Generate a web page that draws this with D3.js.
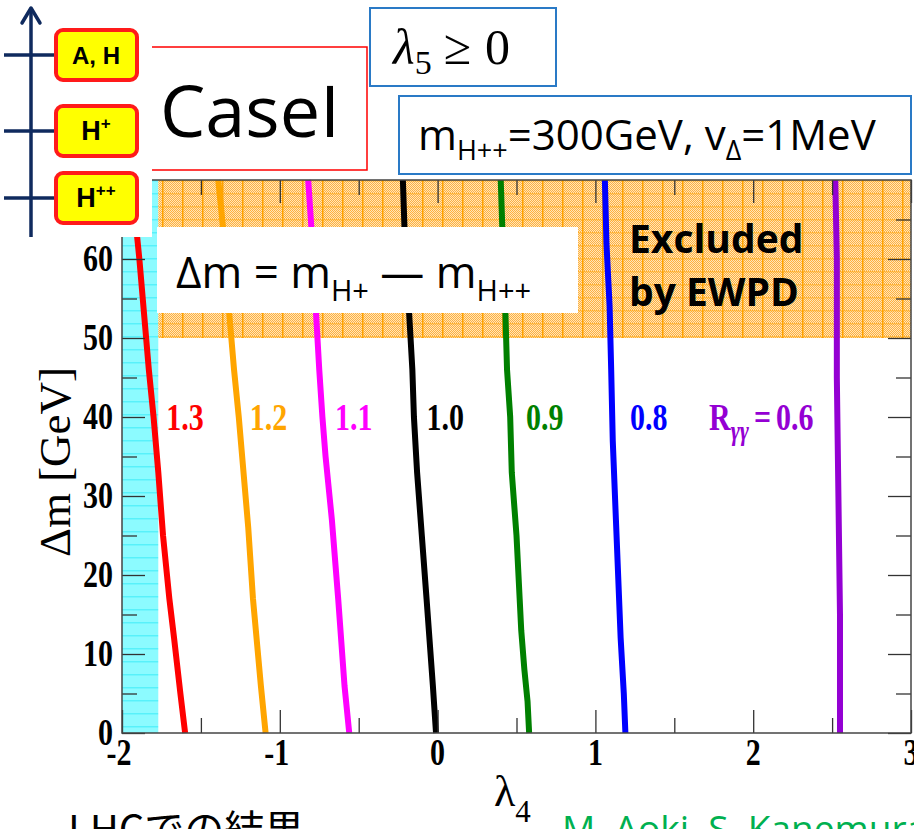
<!DOCTYPE html>
<html>
<head>
<meta charset="utf-8">
<script src="https://cdn.jsdelivr.net/npm/d3@7"></script>
<style>
  body { margin: 0; background: #fff; }
  svg { display: block; }
</style>
</head>
<body>
<div class="chart"></div>
<script>

// Chart values
var xTicks = [-2, -1, 0, 1, 2, 3];
var xMinorTicks = [-1.5, -0.5, 0.5, 1.5, 2.5];
var yTicks = [0, 10, 20, 30, 40, 50, 60];
var yMinorTicks = [5, 15, 25, 35, 45, 55, 65];

var curveLevels = ["1.3", "1.2", "1.1", "1.0", "0.9", "0.8", "0.6"];
var curveColors = ["#ff0000", "#ffa500", "#ff00ff", "#000000", "#008000", "#0000ff", "#9400d3"];

// [lambda4, delta m] along each R_gamma-gamma contour
var curve13 = [[-1.60, 0], [-1.63, 5], [-1.67, 12], [-1.70, 17], [-1.74, 25], [-1.77, 33], [-1.80, 40], [-1.83, 46], [-1.86, 53], [-1.89, 60], [-1.92, 66], [-1.94, 70]];
var curve12 = [[-1.09, 0], [-1.12, 6], [-1.17, 17], [-1.20, 26], [-1.23, 33], [-1.26, 40], [-1.29, 46], [-1.32, 53], [-1.36, 64], [-1.39, 70]];
var curve11 = [[-0.56, 0], [-0.59, 6], [-0.63, 17], [-0.67, 27], [-0.71, 35], [-0.73, 40], [-0.75, 46], [-0.77, 53], [-0.80, 64], [-0.82, 70]];
var curve10 = [[-0.01, 0], [-0.03, 6], [-0.07, 17], [-0.10, 25], [-0.13, 33], [-0.15, 40], [-0.16, 46], [-0.18, 53], [-0.21, 64], [-0.22, 70]];
var curve09 = [[0.58, 0], [0.57, 4], [0.55, 8], [0.53, 13], [0.52, 17], [0.50, 25], [0.47, 33], [0.46, 40], [0.44, 46], [0.43, 53], [0.41, 64], [0.40, 70]];
var curve08 = [[1.19, 0], [1.18, 5], [1.16, 12], [1.15, 17], [1.13, 27], [1.11, 37], [1.10, 46], [1.09, 54], [1.07, 62], [1.06, 70]];
var curve06 = [[2.55, 0], [2.55, 15], [2.54, 30], [2.53, 45], [2.53, 60], [2.52, 70]];
var curves = [curve13, curve12, curve11, curve10, curve09, curve08, curve06];

// Where each contour label starts
var labelLambda = [-1.72, -1.19, -0.65, -0.07, 0.56, 1.22, 1.72];
var labelDm = 39;

// Shaded regions [lambda min, lambda max, dm min, dm max]
var cyanRegion = [-2, -1.77, 0, 70];
var ewpdRegion = [-1.77, 3, 50, 70];

// Dimensions
var width = 914;
var height = 829;
var plot = {left: 122, right: 911, top: 180, bottom: 733};

var x = d3.scaleLinear().domain([-2, 3]).range([plot.left, plot.right]);
var y = d3.scaleLinear().domain([0, 70]).range([plot.bottom, plot.top]);

var svg = d3.select(".chart")
  .append("svg")
  .attr("width", width)
  .attr("height", height);

svg.append("rect")
  .attr("width", width)
  .attr("height", height)
  .attr("fill", "#fff");

// Dithered fills for the shaded regions
var defs = svg.append("defs");

function ditherPattern(id, dark, light) {
    var p = defs.append("pattern")
      .attr("id", id)
      .attr("patternUnits", "userSpaceOnUse")
      .attr("width", 2)
      .attr("height", 2);
    p.append("rect").attr("width", 2).attr("height", 2).attr("fill", light);
    p.append("rect").attr("width", 1).attr("height", 1).attr("fill", dark);
    p.append("rect").attr("x", 1).attr("y", 1).attr("width", 1).attr("height", 1).attr("fill", dark);
}

function gridPattern(id, fill, line, w, h, vOpacity, hOpacity) {
    var p = defs.append("pattern")
      .attr("id", id)
      .attr("patternUnits", "userSpaceOnUse")
      .attr("x", plot.left)
      .attr("y", plot.top)
      .attr("width", w)
      .attr("height", h);
    p.append("rect").attr("width", w).attr("height", h).attr("fill", fill);
    p.append("rect").attr("width", 1.5).attr("height", h).attr("fill", line).attr("opacity", vOpacity);
    p.append("rect").attr("width", w).attr("height", 1.5).attr("fill", line).attr("opacity", hOpacity);
}

ditherPattern("ditherOrange", "#ffb040", "#ffe6b8");
gridPattern("ewpdFill", "url(#ditherOrange)", "#ffa200", 20, 13, 1, 0.45);
gridPattern("cyanFill", "#8cfbff", "#2ee8f5", 36, 13, 0, 0.55);

function region(r, fill) {
    svg.append("rect")
      .attr("x", x(r[0]))
      .attr("y", y(r[3]))
      .attr("width", x(r[1]) - x(r[0]))
      .attr("height", y(r[2]) - y(r[3]))
      .attr("fill", fill);
}

region(cyanRegion, "url(#cyanFill)");
region(ewpdRegion, "url(#ewpdFill)");

// Contours
var line = d3.line()
  .x(function(d) { return x(d[0]); })
  .y(function(d) { return y(d[1]); });

svg.append("g")
  .selectAll("path")
  .data(curves)
  .enter()
  .append("path")
  .attr("d", line)
  .attr("fill", "none")
  .attr("stroke", function(d, i) { return curveColors[i]; })
  .attr("stroke-width", 6)
  .attr("stroke-linejoin", "round");

// Inward ticks on all four sides
function tickAxes(ticks, size) {
    svg.append("g")
      .attr("class", "tick-axis")
      .attr("transform", "translate(0," + plot.bottom + ")")
      .call(d3.axisBottom(x).tickValues(ticks).tickSize(-size).tickFormat(""));
    svg.append("g")
      .attr("class", "tick-axis")
      .attr("transform", "translate(0," + plot.top + ")")
      .call(d3.axisTop(x).tickValues(ticks).tickSize(-size).tickFormat(""));
}

function tickAxesY(ticks, size) {
    svg.append("g")
      .attr("class", "tick-axis")
      .attr("transform", "translate(" + plot.left + ",0)")
      .call(d3.axisLeft(y).tickValues(ticks).tickSize(-size).tickFormat(""));
    svg.append("g")
      .attr("class", "tick-axis")
      .attr("transform", "translate(" + plot.right + ",0)")
      .call(d3.axisRight(y).tickValues(ticks).tickSize(-size).tickFormat(""));
}

tickAxes(xTicks, 23);
tickAxes(xMinorTicks, 15);
tickAxesY(yTicks, 23);
tickAxesY(yMinorTicks, 15);

svg.selectAll(".tick-axis .domain").remove();
svg.selectAll(".tick-axis line")
  .attr("stroke", "#333")
  .attr("stroke-width", 1.3);

// Frame
svg.append("rect")
  .attr("x", plot.left)
  .attr("y", plot.top)
  .attr("width", plot.right - plot.left)
  .attr("height", plot.bottom - plot.top)
  .attr("fill", "none")
  .attr("stroke", "#444")
  .attr("stroke-width", 1.5);

// Tick labels (the figure was stretched vertically)
var serif = "'Liberation Serif', 'Times New Roman', serif";
var stretch = 1.25;

svg.append("g")
  .selectAll("text")
  .data(xTicks)
  .enter()
  .append("text")
  .attr("transform", function(d) { return "translate(" + (x(d) + (d < 0 ? -3 : 0)) + ",765) scale(1," + stretch + ")"; })
  .attr("text-anchor", "middle")
  .attr("font-family", serif)
  .attr("font-weight", "bold")
  .attr("font-size", 30)
  .text(function(d) { return d; });

svg.append("g")
  .selectAll("text")
  .data(yTicks)
  .enter()
  .append("text")
  .attr("transform", function(d) { return "translate(113," + (y(d) + 12) + ") scale(1," + stretch + ")"; })
  .attr("text-anchor", "end")
  .attr("font-family", serif)
  .attr("font-weight", "bold")
  .attr("font-size", 30)
  .text(function(d) { return d; });

// Axis titles
svg.append("text")
  .attr("transform", "translate(70,462) rotate(-90)")
  .attr("text-anchor", "middle")
  .attr("font-family", serif)
  .attr("font-size", 45)
  .text("Δm [GeV]");

var xTitle = svg.append("text")
  .attr("x", 494)
  .attr("y", 806)
  .attr("font-family", serif)
  .attr("font-size", 44)
  .text("λ");
xTitle.append("tspan")
  .attr("dy", 16)
  .attr("font-size", 31)
  .text("4");

// Contour labels
svg.append("g")
  .selectAll("text")
  .data(curveLevels)
  .enter()
  .append("text")
  .attr("transform", function(d, i) { return "translate(" + x(labelLambda[i]) + "," + (y(labelDm) + 5) + ") scale(1," + stretch + ")"; })
  .attr("font-family", serif)
  .attr("font-weight", "bold")
  .attr("font-size", 30)
  .attr("fill", function(d, i) { return curveColors[i]; })
  .each(function(d, i) {
      var t = d3.select(this);
      if (i === curveLevels.length - 1) {
          t.append("tspan").text("R");
          t.append("tspan").attr("dy", 8).attr("font-size", 22).attr("font-style", "italic").text("γγ");
          t.append("tspan").attr("dy", -8).attr("dx", 5).text("=");
          t.append("tspan").attr("dx", 5).text(d);
      } else {
          t.text(d);
      }
  });

// Annotation boxes
var sans = "'Open Sans', 'Noto Sans', sans-serif";

// delta m definition
svg.append("rect")
  .attr("x", 157).attr("y", 227)
  .attr("width", 421).attr("height", 86)
  .attr("fill", "#fff");

var dmText = svg.append("text")
  .attr("x", 176)
  .attr("y", 288)
  .attr("font-family", sans)
  .attr("font-size", 44);
dmText.append("tspan").text("Δm = m");
dmText.append("tspan").attr("dy", 13).attr("font-size", 29).text("H+");
dmText.append("tspan").attr("dy", -13).text(" — m");
dmText.append("tspan").attr("dy", 13).attr("font-size", 29).text("H++");

// Excluded by EWPD
svg.append("text")
  .attr("x", 629).attr("y", 253)
  .attr("font-family", sans)
  .attr("font-weight", "bold")
  .attr("font-size", 39)
  .text("Excluded");
svg.append("text")
  .attr("x", 629).attr("y", 306)
  .attr("font-family", sans)
  .attr("font-weight", "bold")
  .attr("font-size", 39)
  .text("by EWPD");

// White cover for the level diagram corner
svg.append("rect")
  .attr("x", 0).attr("y", 0)
  .attr("width", 152).attr("height", 237)
  .attr("fill", "#fff");

// Mass level diagram
var navy = "#0f2a5e";
svg.append("line")
  .attr("x1", 31).attr("y1", 8).attr("x2", 31).attr("y2", 237)
  .attr("stroke", navy).attr("stroke-width", 3.5);
svg.append("path")
  .attr("d", "M22,23 L31,8 L40,23")
  .attr("fill", "none")
  .attr("stroke", navy).attr("stroke-width", 3.5)
  .attr("stroke-linecap", "round").attr("stroke-linejoin", "round");

var levelNames = ["A, H", "H", "H"];
var levelSup = ["", "+", "++"];
var levelY = [55, 131, 198];

levelY.forEach(function(ly, i) {
    svg.append("line")
      .attr("x1", 4).attr("y1", ly).attr("x2", 56).attr("y2", ly)
      .attr("stroke", navy).attr("stroke-width", 3.5);
    svg.append("rect")
      .attr("x", 56).attr("y", ly - 25)
      .attr("width", 81).attr("height", 50)
      .attr("rx", 7)
      .attr("fill", "#ffff00")
      .attr("stroke", "#ff1a1a")
      .attr("stroke-width", 4);
    var t = svg.append("text")
      .attr("x", 96).attr("y", ly + 9)
      .attr("text-anchor", "middle")
      .attr("font-family", "'Liberation Sans', Arial, sans-serif")
      .attr("font-weight", "bold")
      .attr("font-size", i === 0 ? 24 : 27)
      .text(levelNames[i]);
    if (levelSup[i]) {
        t.append("tspan")
          .attr("dy", -11)
          .attr("font-size", 17)
          .text(levelSup[i]);
    }
});

// CaseI box (open on the left)
svg.append("path")
  .attr("d", "M152,47 H367 V170 H152")
  .attr("fill", "none")
  .attr("stroke", "#ff0000")
  .attr("stroke-width", 1.5);
svg.append("text")
  .attr("x", 160).attr("y", 137)
  .attr("font-family", sans)
  .attr("font-size", 72)
  .text("CaseI");

// lambda5 box
var blue = "#2a7ac6";
svg.append("rect")
  .attr("x", 370).attr("y", 8)
  .attr("width", 186).attr("height", 78)
  .attr("fill", "#fff")
  .attr("stroke", blue).attr("stroke-width", 2);
var l5 = svg.append("text")
  .attr("x", 393).attr("y", 64)
  .attr("font-family", serif)
  .attr("font-size", 50);
l5.append("tspan").attr("font-style", "italic").text("λ");
l5.append("tspan").attr("dy", 10).attr("font-size", 34).text("5");
l5.append("tspan").attr("dy", -10).attr("dx", 12).text("≥");
l5.append("tspan").attr("dx", 14).text("0");

// Parameter box
svg.append("rect")
  .attr("x", 399).attr("y", 96)
  .attr("width", 512).attr("height", 78)
  .attr("fill", "#fff")
  .attr("stroke", blue).attr("stroke-width", 2);
var pText = svg.append("text")
  .attr("x", 418).attr("y", 150)
  .attr("font-family", sans)
  .attr("font-size", 42);
pText.append("tspan").text("m");
pText.append("tspan").attr("dy", 10).attr("font-size", 27).text("H++");
pText.append("tspan").attr("dy", -10).text("=300GeV, v");
pText.append("tspan").attr("dy", 10).attr("font-size", 27).text("Δ");
pText.append("tspan").attr("dy", -10).text("=1MeV");

// Slide footer text, cut by the bottom edge
svg.append("text")
  .attr("x", 68).attr("y", 844)
  .attr("font-family", "'Noto Sans CJK JP', sans-serif")
  .attr("font-size", 40)
  .text("LHCでの結果");
svg.append("text")
  .attr("x", 562).attr("y", 842)
  .attr("font-family", sans)
  .attr("font-size", 37)
  .attr("fill", "#00b050")
  .text("M. Aoki, S. Kanemura, K. Yagyu");

</script>
</body>
</html>
